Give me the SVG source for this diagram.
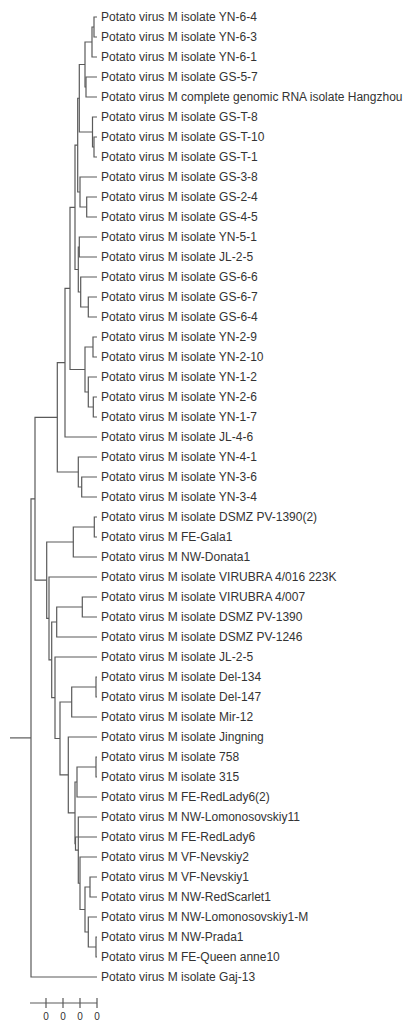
<svg xmlns="http://www.w3.org/2000/svg" width="406" height="1022" viewBox="0 0 406 1022">
<style>
.e{fill:none;stroke:#5a5a5a;stroke-width:1.2}
.t{font-family:"Liberation Sans",Arial,sans-serif;font-size:12px;fill:#333}
.s{font-family:"Liberation Sans",Arial,sans-serif;font-size:10px;fill:#333;text-anchor:middle}
</style>
<rect width="406" height="1022" fill="#fff"/>
<g id="connectors" class="e">
<path d="M97 17H94V37H97"/>
<path d="M94 27H92V57H97"/>
<path d="M97 77H86V97H97"/>
<path d="M92 42H85V87H86"/>
<path d="M97 137H94V157H97"/>
<path d="M97 117H92.5V147H94"/>
<path d="M85 64.5H79.3V132H92.5"/>
<path d="M97 197H86.7V217H97"/>
<path d="M97 177H80V207H86.7"/>
<path d="M79.3 98.25H77.7V192H80"/>
<path d="M97 237H79.3V257H97"/>
<path d="M97 297H88.3V317H97"/>
<path d="M97 277H80.7V307H88.3"/>
<path d="M79.3 247H78.3V292H80.7"/>
<path d="M77.7 145.1H75V269.5H78.3"/>
<path d="M97 337H93V357H97"/>
<path d="M97 397H93.3V417H97"/>
<path d="M97 377H88.3V407H93.3"/>
<path d="M93 347H85V392H88.3"/>
<path d="M75 207.3H70V369.5H85"/>
<path d="M70 288.4H65V437H97"/>
<path d="M97 477H81.7V497H97"/>
<path d="M97 457H78.3V487H81.7"/>
<path d="M65 362.7H57.3V472H78.3"/>
<path d="M97 517H94.3V537H97"/>
<path d="M94.3 527H73.3V557H97"/>
<path d="M97 597H82.3V617H97"/>
<path d="M82.3 607H56.7V637H97"/>
<path d="M97 677H96V697H97"/>
<path d="M96 687H71.7V717H97"/>
<path d="M97 757H96V777H97"/>
<path d="M96 767H77V797H97"/>
<path d="M97 877H90V897H97"/>
<path d="M97 937H96V957H97"/>
<path d="M97 917H88.3V947H96"/>
<path d="M90 887H85V932H88.3"/>
<path d="M97 857H80V909.5H85"/>
<path d="M97 817H78.3V883.25H80"/>
<path d="M97 837H75.5V850.1H78.3"/>
<path d="M77 782H75V843.6H75.5"/>
<path d="M97 737H68.3V812.8H75"/>
<path d="M71.7 702H60V774.9H68.3"/>
<path d="M97 657H55V738.5H60"/>
<path d="M56.7 622H51.7V697.7H55"/>
<path d="M97 577H49V659.9H51.7"/>
<path d="M73.3 542H46.7V618.4H49"/>
<path d="M57.3 417.4H35V580.2H46.7"/>
<path d="M35 498.8H31V977H97"/>
<path d="M10 737.9H31"/>
</g>
<g id="labels" class="t">
<text id="n1" x="101" y="21">Potato virus M isolate YN-6-4</text>
<text id="n2" x="101" y="41">Potato virus M isolate YN-6-3</text>
<text id="n3" x="101" y="61">Potato virus M isolate YN-6-1</text>
<text id="n4" x="101" y="81">Potato virus M isolate GS-5-7</text>
<text id="n5" x="101" y="101">Potato virus M complete genomic RNA isolate Hangzhou</text>
<text id="n6" x="101" y="121">Potato virus M isolate GS-T-8</text>
<text id="n7" x="101" y="141">Potato virus M isolate GS-T-10</text>
<text id="n8" x="101" y="161">Potato virus M isolate GS-T-1</text>
<text id="n9" x="101" y="181">Potato virus M isolate GS-3-8</text>
<text id="n10" x="101" y="201">Potato virus M isolate GS-2-4</text>
<text id="n11" x="101" y="221">Potato virus M isolate GS-4-5</text>
<text id="n12" x="101" y="241">Potato virus M isolate YN-5-1</text>
<text id="n13" x="101" y="261">Potato virus M isolate JL-2-5</text>
<text id="n14" x="101" y="281">Potato virus M isolate GS-6-6</text>
<text id="n15" x="101" y="301">Potato virus M isolate GS-6-7</text>
<text id="n16" x="101" y="321">Potato virus M isolate GS-6-4</text>
<text id="n17" x="101" y="341">Potato virus M isolate YN-2-9</text>
<text id="n18" x="101" y="361">Potato virus M isolate YN-2-10</text>
<text id="n19" x="101" y="381">Potato virus M isolate YN-1-2</text>
<text id="n20" x="101" y="401">Potato virus M isolate YN-2-6</text>
<text id="n21" x="101" y="421">Potato virus M isolate YN-1-7</text>
<text id="n22" x="101" y="441">Potato virus M isolate JL-4-6</text>
<text id="n23" x="101" y="461">Potato virus M isolate YN-4-1</text>
<text id="n24" x="101" y="481">Potato virus M isolate YN-3-6</text>
<text id="n25" x="101" y="501">Potato virus M isolate YN-3-4</text>
<text id="n26" x="101" y="521">Potato virus M isolate DSMZ PV-1390(2)</text>
<text id="n27" x="101" y="541">Potato virus M FE-Gala1</text>
<text id="n28" x="101" y="561">Potato virus M NW-Donata1</text>
<text id="n29" x="101" y="581">Potato virus M isolate VIRUBRA 4/016 223K</text>
<text id="n30" x="101" y="601">Potato virus M isolate VIRUBRA 4/007</text>
<text id="n31" x="101" y="621">Potato virus M isolate DSMZ PV-1390</text>
<text id="n32" x="101" y="641">Potato virus M isolate DSMZ PV-1246</text>
<text id="n33" x="101" y="661">Potato virus M isolate JL-2-5</text>
<text id="n34" x="101" y="681">Potato virus M isolate Del-134</text>
<text id="n35" x="101" y="701">Potato virus M isolate Del-147</text>
<text id="n36" x="101" y="721">Potato virus M isolate Mir-12</text>
<text id="n37" x="101" y="741">Potato virus M isolate Jingning</text>
<text id="n38" x="101" y="761">Potato virus M isolate 758</text>
<text id="n39" x="101" y="781">Potato virus M isolate 315</text>
<text id="n40" x="101" y="801">Potato virus M FE-RedLady6(2)</text>
<text id="n41" x="101" y="821">Potato virus M NW-Lomonosovskiy11</text>
<text id="n42" x="101" y="841">Potato virus M FE-RedLady6</text>
<text id="n43" x="101" y="861">Potato virus M VF-Nevskiy2</text>
<text id="n44" x="101" y="881">Potato virus M VF-Nevskiy1</text>
<text id="n45" x="101" y="901">Potato virus M NW-RedScarlet1</text>
<text id="n46" x="101" y="921">Potato virus M NW-Lomonosovskiy1-M</text>
<text id="n47" x="101" y="941">Potato virus M NW-Prada1</text>
<text id="n48" x="101" y="961">Potato virus M FE-Queen anne10</text>
<text id="n49" x="101" y="981">Potato virus M isolate Gaj-13</text>
</g>
<g id="scalebar">
<path class="e" d="M30 1003H97M46 998V1008M63 998V1008M80 998V1008M97 998V1008"/>
<text class="s" x="46" y="1020">0</text>
<text class="s" x="63" y="1020">0</text>
<text class="s" x="80" y="1020">0</text>
<text class="s" x="97" y="1020">0</text>
</g>
</svg>
